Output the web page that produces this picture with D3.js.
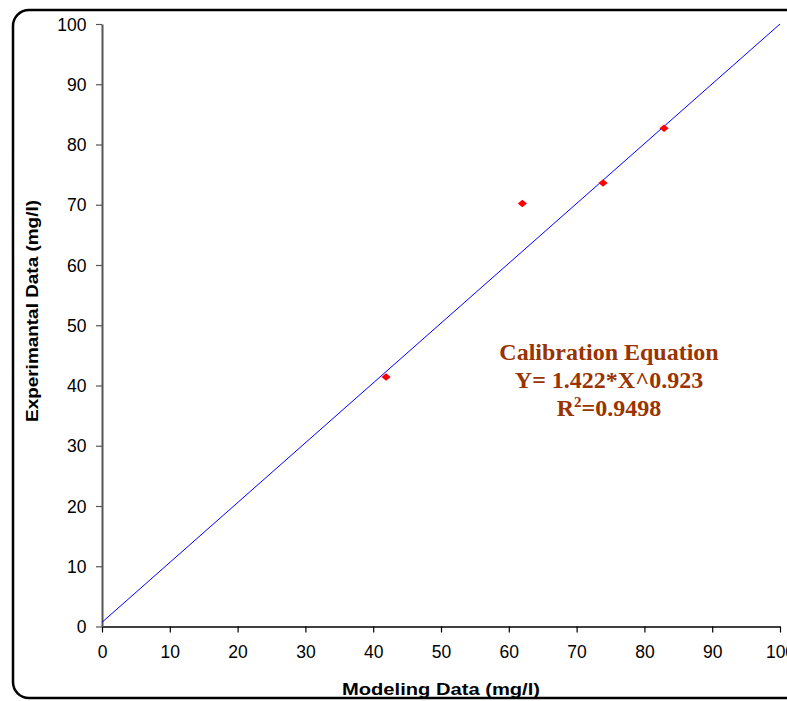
<!DOCTYPE html>
<html><head><meta charset="utf-8">
<script src="https://cdn.jsdelivr.net/npm/d3@7"></script>
<style>body{margin:0;background:#fff;}svg{display:block;}</style>
</head><body>
<script>
const modeling = [41.9, 62.0, 73.9, 82.9];
const experimental = [41.4, 70.2, 73.6, 82.7];
const fitX = [0, 100];
const fitY = [0.7, 100];
const xTicks = [0,10,20,30,40,50,60,70,80,90,100];
const yTicks = [0,10,20,30,40,50,60,70,80,90,100];
const eqLines = ["Calibration Equation", "Y= 1.422*X^0.923"];

const W = 787, H = 701;
const svg = d3.select("body").append("svg").attr("width", W).attr("height", H);
svg.append("rect").attr("x", 13).attr("y", 10).attr("width", 800).attr("height", 688)
  .attr("rx", 16).attr("fill", "#fff").attr("stroke", "#000").attr("stroke-width", 2.5);

const x = d3.scaleLinear().domain([0,100]).range([102, 780]);
const y = d3.scaleLinear().domain([0,100]).range([626.5, 24]);

const xAxis = svg.append("g").attr("transform", `translate(0,${y(0)})`)
  .call(d3.axisBottom(x).tickValues(xTicks).tickSize(6).tickSizeOuter(0));
xAxis.select(".domain").attr("stroke", "#000").attr("stroke-width", 1.5);
xAxis.selectAll(".tick line").attr("stroke", "#000").attr("stroke-width", 1.2);
xAxis.selectAll("text").attr("font-family", "Arial, Liberation Sans").attr("font-size", 17.5)
  .attr("fill", "#000").attr("dy", null).attr("y", 31.5);

const yAxis = svg.append("g").attr("transform", `translate(${x(0)},0)`)
  .call(d3.axisLeft(y).tickValues(yTicks).tickSize(6).tickSizeOuter(0));
yAxis.select(".domain").attr("stroke", "#555").attr("stroke-width", 2);
yAxis.selectAll(".tick line").attr("stroke", "#555").attr("stroke-width", 1.2);
yAxis.selectAll("text").attr("font-family", "Arial, Liberation Sans").attr("font-size", 17.5)
  .attr("fill", "#000").attr("x", -15.5).attr("dy", "0.35em");

// fit line
svg.append("line").attr("x1", x(fitX[0])).attr("y1", y(fitY[0]))
  .attr("x2", x(fitX[1])).attr("y2", y(fitY[1]))
  .attr("stroke", "#0000ff").attr("stroke-width", 1);

// points
svg.selectAll("path.pt").data(modeling).enter().append("path")
  .attr("class", "pt")
  .attr("d", d3.symbol().type(d3.symbolSquare).size(32))
  .attr("transform", (d,i) => `translate(${x(d)},${y(experimental[i])}) scale(1.15,0.95) rotate(45)`)
  .attr("fill", "#ff0000");

// equation text
const eq = svg.append("g").attr("font-family", "Liberation Serif, Times New Roman, serif")
  .attr("font-weight", "bold").attr("font-size", 24).attr("fill", "#993300").attr("text-anchor", "middle");
eq.append("text").attr("x", 609).attr("y", 360).text(eqLines[0]);
eq.append("text").attr("x", 609).attr("y", 388).text(eqLines[1]);
const r = eq.append("text").attr("x", 609).attr("y", 416);
r.append("tspan").text("R");
r.append("tspan").attr("font-size", 15).attr("dy", -9).text("2");
r.append("tspan").attr("dy", 9).text("=0.9498");

// axis titles
svg.append("text").attr("x", 441).attr("y", 695).attr("text-anchor", "middle")
  .attr("font-family", "Arial, Liberation Sans").attr("font-weight", "bold").attr("font-size", 17)
  .attr("textLength", 198).attr("lengthAdjust", "spacingAndGlyphs")
  .text("Modeling Data (mg/l)");
svg.append("text").attr("transform", "translate(38,311) rotate(-90)").attr("text-anchor", "middle")
  .attr("font-family", "Arial, Liberation Sans").attr("font-weight", "bold").attr("font-size", 17)
  .attr("textLength", 222).attr("lengthAdjust", "spacingAndGlyphs")
  .text("Experimantal Data (mg/l)");
</script>
</body></html>
